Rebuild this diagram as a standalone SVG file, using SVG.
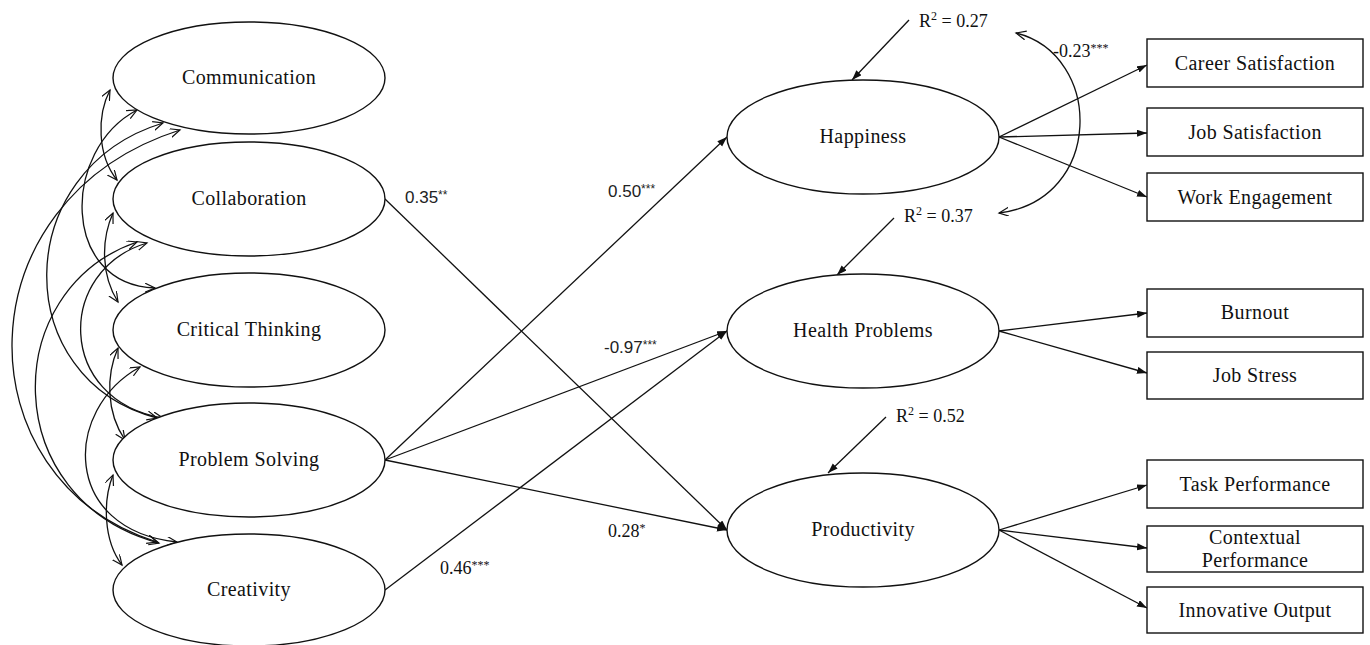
<svg xmlns="http://www.w3.org/2000/svg" width="1370" height="645" viewBox="0 0 1370 645">
<defs>
<marker id="fa" markerUnits="userSpaceOnUse" markerWidth="11" markerHeight="8" refX="10" refY="3.5" orient="auto">
<path d="M0,0 L10,3.5 L0,7 z" fill="#111"/>
</marker>
<marker id="oa" markerUnits="userSpaceOnUse" markerWidth="12" markerHeight="10" refX="10" refY="4.5" orient="auto-start-reverse">
<path d="M0,0 L10,4.5 L0,9" fill="none" stroke="#111" stroke-width="1.2"/>
</marker>
<style>
.n{fill:#fff;stroke:#111;stroke-width:1.4}
.t{font-family:"Liberation Serif","Times New Roman",serif;font-size:20px;fill:#111;text-anchor:middle;letter-spacing:0.4px}
.l{font-family:"Liberation Serif","Times New Roman",serif;font-size:18px;fill:#111}
.s{font-family:"Liberation Sans",Arial,sans-serif;font-size:17px;fill:#222}
.c path,.c line{fill:none;stroke:#111;stroke-width:1.3}
.p{marker-end:url(#fa)}
.cv{marker-start:url(#oa);marker-end:url(#oa)}
</style>
</defs>
<rect width="1370" height="645" fill="#fff"/>

<g id="connectors" class="c">
<!-- covariances -->
<path class="cv" d="M110,90 C97,115 97,155 117,180"/>
<path class="cv" d="M113,213 C101,240 101,275 118,302"/>
<path class="cv" d="M118,348 C106,375 106,412 125,440"/>
<path class="cv" d="M113,475 C103,500 103,540 122,565"/>
<path class="cv" d="M137,110 C61,150 61,285 155,288"/>
<path class="cv" d="M163,123 C9,170 9,380 157,418"/>
<path class="cv" d="M180,130 C-40,200 -40,480 157,542"/>
<path class="cv" d="M147,243 C56,270 56,400 163,418"/>
<path class="cv" d="M137,242 C-2,290 -2,500 159,543"/>
<path class="cv" d="M140,367 C62,410 62,530 177,542"/>
<!-- structural paths -->
<line class="p" x1="385" y1="199" x2="727" y2="530"/>
<line class="p" x1="385" y1="460" x2="727" y2="137"/>
<line class="p" x1="385" y1="460" x2="727" y2="331"/>
<line class="p" x1="385" y1="460" x2="727" y2="530"/>
<line class="p" x1="385" y1="590" x2="727" y2="331"/>
<!-- residual arrows -->
<line class="p" x1="909" y1="20" x2="852" y2="80"/>
<line class="p" x1="894" y1="218" x2="837" y2="275"/>
<line class="p" x1="886" y1="417" x2="828" y2="473"/>
<!-- residual covariance -->
<path class="cv" d="M1016,33 C1104,55 1104,200 999,213"/>
<!-- indicators -->
<line class="p" x1="999" y1="137" x2="1147" y2="65"/>
<line class="p" x1="999" y1="137" x2="1147" y2="133"/>
<line class="p" x1="999" y1="137" x2="1147" y2="197"/>
<line class="p" x1="999" y1="331" x2="1147" y2="313"/>
<line class="p" x1="999" y1="331" x2="1147" y2="373"/>
<line class="p" x1="999" y1="530" x2="1147" y2="485"/>
<line class="p" x1="999" y1="530" x2="1147" y2="548"/>
<line class="p" x1="999" y1="530" x2="1147" y2="608"/>
</g>

<g id="communication"><ellipse class="n" cx="249" cy="78" rx="136" ry="56"/><text class="t" x="249" y="84">Communication</text></g>
<g id="collaboration"><ellipse class="n" cx="249" cy="199" rx="136" ry="57"/><text class="t" x="249" y="205">Collaboration</text></g>
<g id="critical-thinking"><ellipse class="n" cx="249" cy="330" rx="136" ry="57"/><text class="t" x="249" y="336">Critical Thinking</text></g>
<g id="problem-solving"><ellipse class="n" cx="249" cy="460" rx="136" ry="57"/><text class="t" x="249" y="466">Problem Solving</text></g>
<g id="creativity"><ellipse class="n" cx="249" cy="590" rx="136" ry="56"/><text class="t" x="249" y="596">Creativity</text></g>

<g id="happiness"><ellipse class="n" cx="863" cy="137" rx="136" ry="57"/><text class="t" x="863" y="143">Happiness</text></g>
<g id="health-problems"><ellipse class="n" cx="863" cy="331" rx="136" ry="57"/><text class="t" x="863" y="337">Health Problems</text></g>
<g id="productivity"><ellipse class="n" cx="863" cy="530" rx="136" ry="57"/><text class="t" x="863" y="536">Productivity</text></g>

<g id="career-satisfaction"><rect class="n" x="1147" y="39" width="216" height="48"/><text class="t" x="1255" y="70">Career Satisfaction</text></g>
<g id="job-satisfaction"><rect class="n" x="1147" y="108" width="216" height="48"/><text class="t" x="1255" y="139">Job Satisfaction</text></g>
<g id="work-engagement"><rect class="n" x="1147" y="173" width="216" height="48"/><text class="t" x="1255" y="204">Work Engagement</text></g>
<g id="burnout"><rect class="n" x="1147" y="289" width="216" height="48"/><text class="t" x="1255" y="319">Burnout</text></g>
<g id="job-stress"><rect class="n" x="1147" y="352" width="216" height="47"/><text class="t" x="1255" y="382">Job Stress</text></g>
<g id="task-performance"><rect class="n" x="1147" y="460" width="216" height="48"/><text class="t" x="1255" y="491">Task Performance</text></g>
<g id="contextual-performance"><rect class="n" x="1147" y="526" width="216" height="46"/><text class="t" x="1255" y="544">Contextual</text><text class="t" x="1255" y="567">Performance</text></g>
<g id="innovative-output"><rect class="n" x="1147" y="587" width="216" height="46"/><text class="t" x="1255" y="617">Innovative Output</text></g>

<g id="labels">
<text class="s" x="405" y="203">0.35<tspan font-size="12" dy="-4">**</tspan></text>
<text class="s" x="608" y="197">0.50<tspan font-size="12" dy="-4">***</tspan></text>
<text class="s" x="604" y="353">-0.97<tspan font-size="12" dy="-4">***</tspan></text>
<text class="l" x="608" y="537">0.28<tspan font-size="12" dy="-5">*</tspan></text>
<text class="l" x="440" y="574">0.46<tspan font-size="12" dy="-5">***</tspan></text>
<text class="l" x="1053" y="57">-0.23<tspan font-size="12" dy="-5">***</tspan></text>
<text class="l" x="919" y="27">R<tspan font-size="12" dy="-7">2</tspan><tspan dy="7"> = 0.27</tspan></text>
<text class="l" x="904" y="222">R<tspan font-size="12" dy="-7">2</tspan><tspan dy="7"> = 0.37</tspan></text>
<text class="l" x="896" y="422">R<tspan font-size="12" dy="-7">2</tspan><tspan dy="7"> = 0.52</tspan></text>
</g>
</svg>
